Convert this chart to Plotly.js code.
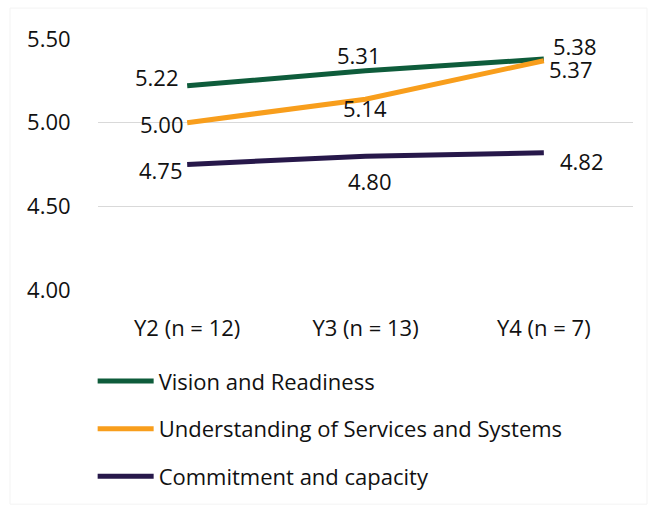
<!DOCTYPE html>
<html>
<head>
<meta charset="utf-8">
<script src="https://cdn.plot.ly/plotly-3.0.1.min.js"></script>
<style>html,body{margin:0;padding:0;background:#fff;}#chart{width:650px;height:508px;}</style>
</head>
<body>
<div id="chart"></div>
<script>
const categories = ["Y2 (n = 12)", "Y3 (n = 13)", "Y4 (n = 7)"];
const seriesNames = ["Vision and Readiness", "Understanding of Services and Systems", "Commitment and capacity"];
const visionReadiness = [5.22, 5.31, 5.38];
const understandingServices = [5.00, 5.14, 5.37];
const commitmentCapacity = [4.75, 4.80, 4.82];
const yTickVals = [4.0, 4.5, 5.0, 5.5];

const seriesValues = [visionReadiness, understandingServices, commitmentCapacity];
const colors = ["#0E5C3B", "#F89E1C", "#27184A"];
// label offsets (px) per series/point
const labelOffsets = [
  [[-30, 9], [-7, 16], [31, 13]],
  [[-25, -1], [-1, -9], [27, -8]],
  [[-26, -5], [4, -25], [38, -8]]
];
const FONT = "Open Sans, Noto Sans, sans-serif";
const FS = 22;
const traces = seriesValues.map((vals, i) => ({
  x: categories, y: vals, type: "scatter", mode: "lines",
  name: seriesNames[i], legendgroup: "g" + i,
  line: {color: colors[i], width: 5},
  hoverinfo: "skip"
}));
const annotations = [];
seriesValues.forEach((vals, i) => {
  vals.forEach((v, j) => {
    annotations.push({
      x: categories[j], y: v, xref: "x", yref: "y",
      text: v.toFixed(2), showarrow: false,
      xanchor: "center", yanchor: "middle",
      xshift: labelOffsets[i][j][0], yshift: labelOffsets[i][j][1],
      font: {family: FONT, size: FS, color: "#111"}
    });
  });
});
const layout = {
  width: 650, height: 508,
  margin: {l: 98, r: 17, t: 39, b: 217},
  paper_bgcolor: "#fff", plot_bgcolor: "#fff",
  font: {family: FONT, size: FS, color: "#111"},
  showlegend: true,
  legend: {
    orientation: "v", x: -0.01, xanchor: "left", y: -0.275, yanchor: "top",
    itemwidth: 56, tracegroupgap: 16,
    font: {family: FONT, size: FS, color: "#111"}
  },
  xaxis: {
    type: "category", range: [-0.5, 2.5],
    showgrid: false, zeroline: false, showline: false,
    ticks: "outside", ticklen: 19, tickcolor: "rgba(0,0,0,0)",
    tickfont: {family: FONT, size: FS, color: "#111"}
  },
  yaxis: {
    range: [4.0, 5.5], tickvals: yTickVals,
    ticktext: yTickVals.map(v => v.toFixed(2)),
    showgrid: true, gridcolor: "#d9d9d9", gridwidth: 1.5,
    zeroline: false, showline: false,
    ticks: "outside", ticklen: 22, tickcolor: "rgba(0,0,0,0)",
    tickfont: {family: FONT, size: FS, color: "#111"}
  },
  annotations: annotations,
  shapes: [{type: "rect", xref: "paper", yref: "paper", layer: "below",
    x0: -88/535, x1: 1 + 14/535, y0: -215/252, y1: 1 + 31/252,
    line: {color: "#f3f3f3", width: 1}}]
};
Plotly.newPlot("chart", traces, layout, {displayModeBar: false, staticPlot: true});
</script>
</body>
</html>
